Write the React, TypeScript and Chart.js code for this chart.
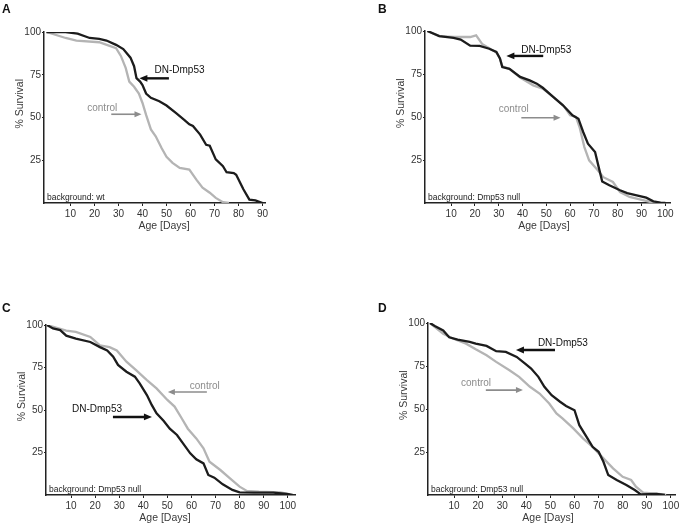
import React, { useEffect, useRef } from "react";
import { Chart, registerables } from "chart.js";
Chart.register(...registerables);

// ---------- data ----------
const A_DN_DAYS = [0, 8, 13, 18, 22, 25, 29, 32, 35, 36.5, 37.5, 39, 40, 41.5, 43.5, 47, 50, 54, 57.5, 59.5, 61, 64, 66.5, 68, 70.5, 73.5, 75, 78, 79, 82, 84.5, 87, 90];
const A_DN_SURV = [100, 100, 99, 96.5, 96, 95, 92.5, 90, 85, 80, 73, 71, 69, 64, 61.5, 59.5, 57, 52.5, 48.5, 46, 45, 40, 34, 33.5, 25.5, 21.5, 18, 17.5, 16.5, 8, 2, 1.5, 0];
const A_CT_DAYS = [0, 8, 12.5, 22, 26, 29, 31, 33, 34.5, 36.5, 38.5, 40, 41.5, 43.5, 45.5, 48, 50, 52.5, 55.5, 59.5, 62.5, 65, 68, 70.5, 73.5, 76];
const A_CT_SURV = [100, 96.5, 95, 94, 92, 90.5, 86, 79, 71, 68, 64, 58.5, 51.5, 43, 39, 32, 27, 23.5, 20.5, 19.5, 13.5, 9, 6, 3, 0.5, 0];

const B_DN_DAYS = [0, 5, 11, 14, 18, 22, 26, 29, 30.5, 31.5, 34.5, 39, 43, 46, 48.5, 53, 57, 61, 63.5, 65.5, 67.5, 70.5, 72, 73.5, 76.5, 81, 84, 88, 92, 95, 98, 100];
const B_DN_SURV = [100, 97, 96, 95, 91.5, 91.3, 89.7, 87.8, 84, 79, 78, 73.3, 71.3, 69.4, 67, 61.6, 56.8, 51, 49, 41.3, 34.5, 29.7, 21, 12.5, 10.3, 7.4, 5.8, 4.5, 3.1, 1, 0.2, 0];
const B_CT_DAYS = [0, 5, 11, 14, 18, 20.5, 23, 26, 29, 30.5, 31.5, 34.5, 39, 44.5, 48.5, 53, 57, 60, 62.5, 64, 66, 68, 71, 74, 78, 81, 85, 91, 95, 97];
const B_CT_SURV = [100, 97, 96.5, 96.5, 96.5, 97.5, 92.5, 90, 87.5, 84, 79.5, 78, 73, 68.4, 66.5, 61.5, 57, 51, 50, 44, 32.5, 24.8, 20, 15, 12.2, 6.4, 3.5, 1.5, 0.2, 0];

const C_DN_DAYS = [0, 2.5, 5.5, 8, 12, 18, 22, 25, 27.5, 29.5, 33, 36.5, 38.5, 41.5, 43.5, 45.5, 48.5, 51, 54, 56.5, 59.5, 62, 65, 67, 69.5, 73, 77, 80, 86, 94, 99.5, 102];
const C_DN_SURV = [100, 98, 97, 93.7, 92, 90, 87, 85, 81.4, 76.5, 72.5, 69.6, 65.7, 58.8, 53, 48, 43.5, 39, 35.3, 30.4, 24.5, 21, 18.6, 11.8, 10.2, 6.3, 3, 1.6, 1.4, 1.4, 0.6, 0];
const C_CT_DAYS = [0, 8, 12, 18, 22, 26, 29, 33, 37, 41.5, 45.5, 50, 53, 56, 58.5, 62, 65, 67.5, 72, 76, 80, 83, 88, 97, 101];
const C_CT_SURV = [100, 96.7, 96, 93, 88, 87, 85, 78.4, 73.5, 67.6, 62.7, 55.9, 52, 45, 39, 33.3, 27.5, 19.6, 14.7, 9.8, 4.9, 2.4, 2, 1.6, 0.4];

const D_DN_DAYS = [0, 2, 5.5, 8, 11.5, 16.5, 19, 23.5, 27.5, 31.5, 36, 39.5, 42, 45, 47.5, 50.5, 54, 56.5, 60, 62, 65, 67.5, 70, 72, 74, 77.5, 81.5, 85, 87.5, 94, 97.5];
const D_DN_SURV = [100, 98.3, 95.7, 91.7, 90.3, 89, 88, 86.7, 83.6, 83.2, 80.3, 76.4, 73.5, 68.7, 62.9, 58, 54.2, 51.8, 49.3, 40.6, 33.8, 28, 25.1, 19.3, 11.6, 8.7, 5.8, 2.9, 0.4, 0.6, 0];
const D_CT_DAYS = [0, 5.5, 9.5, 15, 19, 23.5, 27.5, 33, 37, 41.5, 45.5, 49.5, 52.5, 55, 59.5, 63.5, 67.5, 72, 76, 80, 83.5, 85.5, 88.5, 95, 98];
const D_CT_SURV = [100, 93.8, 91, 88, 84.7, 81.2, 77.4, 72.5, 68.7, 62.9, 59, 53.2, 47.4, 44.5, 38.7, 32.9, 28, 21.3, 15.5, 10.6, 8.7, 4.8, 1.4, 0.6, 0];

const X_TICKS_90 = [10, 20, 30, 40, 50, 60, 70, 80, 90];
const X_TICKS_100 = [10, 20, 30, 40, 50, 60, 70, 80, 90, 100];
const Y_TICKS = [25, 50, 75, 100];

const LABEL_DN = "DN-Dmp53";
const LABEL_CT = "control";
const X_TITLE = "Age [Days]";
const Y_TITLE = "% Survival";
const BG_WT = "background: wt";
const BG_NULL = "background: Dmp53 null";

// ---------- layout / style ----------
const FONT = "'Liberation Sans', Arial, sans-serif";
const BLACK = "#1c1c1c";
const GREY_LINE = "#b4b4b4";
const GREY_TEXT = "#8c8c8c";
const YW = 22;
const XH = 16;

type Note = { tx: number; ty: number; a0: number; a1: number; ay: number };
type PanelDef = {
  letter: string;
  bg: string;
  dnDays: number[]; dnSurv: number[];
  ctDays: number[]; ctSurv: number[];
  xTicks: number[];
  xMin: number; xMax: number;
  quad: { x: number; y: number; w: number; h: number };
  area: { l: number; r: number; t: number; b: number };
  dn: Note; ct: Note;
};

const PANELS: PanelDef[] = [
  {
    letter: "A", bg: BG_WT,
    dnDays: A_DN_DAYS, dnSurv: A_DN_SURV, ctDays: A_CT_DAYS, ctSurv: A_CT_SURV,
    xTicks: X_TICKS_90, xMin: -1, xMax: 91,
    quad: { x: 0, y: 0, w: 343, h: 262 },
    area: { l: 44, r: 265, t: 32, b: 203 },
    dn: { tx: 45, ty: 77.8, a0: 51, a1: 38.7, ay: 72.9 },
    ct: { tx: 17, ty: 55.4, a0: 27, a1: 39.6, ay: 51.9 },
  },
  {
    letter: "B", bg: BG_NULL,
    dnDays: B_DN_DAYS, dnSurv: B_DN_SURV, ctDays: B_CT_DAYS, ctSurv: B_CT_SURV,
    xTicks: X_TICKS_100, xMin: -1, xMax: 102,
    quad: { x: 343, y: 0, w: 343, h: 262 },
    area: { l: 425, r: 670, t: 31, b: 203 },
    dn: { tx: 39.5, ty: 89, a0: 48.7, a1: 33.2, ay: 85.5 },
    ct: { tx: 30, ty: 54.7, a0: 39.5, a1: 56, ay: 49.6 },
  },
  {
    letter: "C", bg: BG_NULL,
    dnDays: C_DN_DAYS, dnSurv: C_DN_SURV, ctDays: C_CT_DAYS, ctSurv: C_CT_SURV,
    xTicks: X_TICKS_100, xMin: -0.4, xMax: 103,
    quad: { x: 0, y: 262, w: 343, h: 263 },
    area: { l: 46, r: 295, t: 325, b: 495 },
    dn: { tx: 10.4, ty: 50.6, a0: 27.4, a1: 43.6, ay: 45.9 },
    ct: { tx: 59.3, ty: 64, a0: 66.4, a1: 50.2, ay: 60.6 },
  },
  {
    letter: "D", bg: BG_NULL,
    dnDays: D_DN_DAYS, dnSurv: D_DN_SURV, ctDays: D_CT_DAYS, ctSurv: D_CT_SURV,
    xTicks: X_TICKS_100, xMin: -0.8, xMax: 101.7,
    quad: { x: 343, y: 262, w: 343, h: 263 },
    area: { l: 428, r: 675, t: 323, b: 495 },
    dn: { tx: 44.8, ty: 88.4, a0: 51.9, a1: 35.7, ay: 84.3 },
    ct: { tx: 12.9, ty: 65, a0: 23.2, a1: 38.6, ay: 61 },
  },
];

function drawArrow(ctx: CanvasRenderingContext2D, x0: number, x1: number, y: number, color: string, lw: number, hl: number, hw: number) {
  const dir = x1 > x0 ? 1 : -1;
  ctx.save();
  ctx.strokeStyle = color;
  ctx.fillStyle = color;
  ctx.lineWidth = lw;
  ctx.beginPath();
  ctx.moveTo(x0, y);
  ctx.lineTo(x1 - dir * hl * 0.8, y);
  ctx.stroke();
  ctx.beginPath();
  ctx.moveTo(x1, y);
  ctx.lineTo(x1 - dir * hl, y - hw);
  ctx.lineTo(x1 - dir * hl, y + hw);
  ctx.closePath();
  ctx.fill();
  ctx.restore();
}

function Panel({ def }: { def: PanelDef }) {
  const ref = useRef<HTMLCanvasElement | null>(null);
  useEffect(() => {
    if (!ref.current) return;
    const { quad, area } = def;
    const pad = {
      left: area.l - quad.x - YW,
      right: quad.x + quad.w - area.r,
      top: area.t - quad.y,
      bottom: quad.y + quad.h - area.b - XH,
    };
    const notes = {
      id: "notes",
      afterDatasetsDraw(chart: any) {
        const ctx: CanvasRenderingContext2D = chart.ctx;
        const xs = chart.scales.x;
        const ys = chart.scales.y;
        const ca = chart.chartArea;
        ctx.save();
        // panel letter
        ctx.fillStyle = "#111";
        ctx.font = `bold 12px ${FONT}`;
        ctx.textAlign = "left";
        ctx.textBaseline = "alphabetic";
        ctx.fillText(def.letter, def.quad.x === 0 ? 2 : 35, def.quad.y === 0 ? 13 : 50);
        // axis titles
        ctx.fillStyle = "#3a3a3a";
        ctx.font = `10.5px ${FONT}`;
        ctx.textAlign = "center";
        ctx.textBaseline = "middle";
        ctx.fillText(X_TITLE, xs.getPixelForValue(49), ca.bottom + 23);
        ctx.save();
        ctx.translate(ca.left - 24, ys.getPixelForValue(58));
        ctx.rotate(-Math.PI / 2);
        ctx.fillText(Y_TITLE, 0, 0);
        ctx.restore();
        // background label
        ctx.fillStyle = "#222";
        ctx.font = `8.5px ${FONT}`;
        ctx.textAlign = "left";
        ctx.textBaseline = "alphabetic";
        ctx.fillText(def.bg, ca.left + 3, ca.bottom - 3);
        // annotations
        ctx.font = `10px ${FONT}`;
        ctx.textBaseline = "middle";
        ctx.fillStyle = "#111";
        ctx.fillText(LABEL_DN, xs.getPixelForValue(def.dn.tx), ys.getPixelForValue(def.dn.ty));
        drawArrow(ctx, xs.getPixelForValue(def.dn.a0), xs.getPixelForValue(def.dn.a1), ys.getPixelForValue(def.dn.ay), "#111", 2.4, 8, 3.4);
        ctx.fillStyle = GREY_TEXT;
        ctx.fillText(LABEL_CT, xs.getPixelForValue(def.ct.tx), ys.getPixelForValue(def.ct.ty));
        drawArrow(ctx, xs.getPixelForValue(def.ct.a0), xs.getPixelForValue(def.ct.a1), ys.getPixelForValue(def.ct.ay), GREY_TEXT, 1.6, 7, 3);
        ctx.restore();
      },
    };
    const chart = new Chart(ref.current, {
      type: "line",
      data: {
        datasets: [
          {
            label: LABEL_CT,
            data: def.ctDays.map((d, i) => ({ x: d, y: def.ctSurv[i] })),
            borderColor: GREY_LINE,
            borderWidth: 2.3,
            pointRadius: 0,
            tension: 0,
            fill: false,
            order: 1,
          },
          {
            label: LABEL_DN,
            data: def.dnDays.map((d, i) => ({ x: d, y: def.dnSurv[i] })),
            borderColor: BLACK,
            borderWidth: 2.3,
            pointRadius: 0,
            tension: 0,
            fill: false,
            order: 0,
          },
        ],
      },
      options: {
        animation: false,
        responsive: false,
        devicePixelRatio: window.devicePixelRatio || 1,
        layout: { padding: pad },
        plugins: { legend: { display: false }, tooltip: { enabled: false }, title: { display: false } },
        scales: {
          x: {
            type: "linear",
            min: def.xMin,
            max: def.xMax,
            afterFit: (s: any) => { s.height = XH; },
            afterBuildTicks: (s: any) => { s.ticks = def.xTicks.map((v) => ({ value: v })); },
            grid: { display: true, drawOnChartArea: false, drawTicks: true, tickLength: 3, color: "#222", lineWidth: 1 },
            border: { display: true, color: "#222", width: 1.5 },
            ticks: { font: { family: FONT, size: 10 }, color: "#333", padding: 2, maxRotation: 0, autoSkip: false },
          },
          y: {
            type: "linear",
            min: 0,
            max: 100,
            afterFit: (s: any) => { s.width = YW; },
            afterBuildTicks: (s: any) => { s.ticks = Y_TICKS.map((v) => ({ value: v })); },
            grid: { display: true, drawOnChartArea: false, drawTicks: true, tickLength: 2, color: "#222", lineWidth: 1 },
            border: { display: true, color: "#222", width: 1.5 },
            ticks: { font: { family: FONT, size: 10 }, color: "#333", padding: 1 },
          },
        },
      } as any,
      plugins: [notes],
    });
    return () => chart.destroy();
  }, [def]);
  return (
    <canvas
      ref={ref}
      width={def.quad.w}
      height={def.quad.h}
      style={{ position: "absolute", left: def.quad.x, top: def.quad.y, width: def.quad.w, height: def.quad.h }}
    />
  );
}

export default function App() {
  return (
    <div style={{ position: "absolute", left: 0, top: 0, width: 686, height: 525, background: "#fff", overflow: "hidden" }}>
      {PANELS.map((p) => (
        <Panel key={p.letter} def={p} />
      ))}
    </div>
  );
}
